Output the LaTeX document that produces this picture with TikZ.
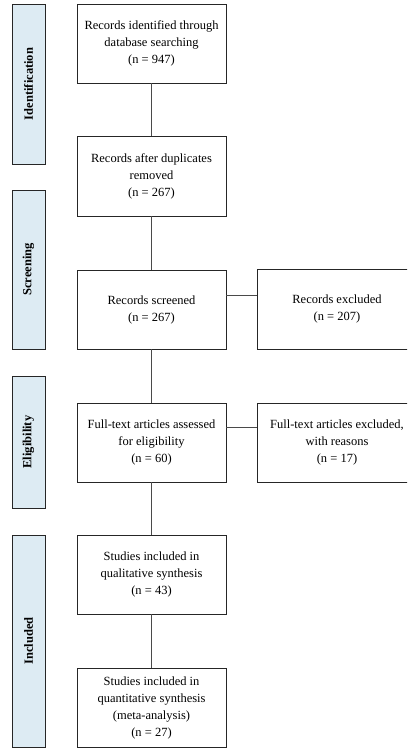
\documentclass[tikz,border=0pt]{standalone}
\usepackage{fontspec}
\setmainfont{Liberation Serif}
\definecolor{barfill}{HTML}{DDEBF3}
\definecolor{linegray}{HTML}{4A4A4A}
\begin{document}
\begin{tikzpicture}[x=1pt,y=1pt,
  box/.style={draw=black!85, line width=0.9pt, fill=white, align=center,
    minimum width=149pt, minimum height=79pt, inner sep=2pt,
    font=\fontsize{12.5}{17}\selectfont},
  sidebox/.style={box, minimum width=160pt},
  phase/.style={draw=black!85, line width=0.9pt, fill=barfill, minimum width=33pt,
    inner sep=0pt, font=\bfseries\fontsize{12.5}{15}\selectfont},
  link/.style={draw=linegray, line width=1pt}]
\useasboundingbox (0,0) rectangle (407,-749);
\clip (0,0) rectangle (407,-749);
% phase bars
\node[phase, minimum height=160pt] (pid) at (28.5,-84) {};
\node[rotate=90, font=\bfseries\fontsize{12.5}{15}\selectfont] (tid) at (pid.center) {Identification};
\node[phase, minimum height=159pt] (psc) at (28.5,-269.5) {};
\node[rotate=90, font=\bfseries\fontsize{12.5}{15}\selectfont] (tsc) at (psc.center) {Screening};
\node[phase, minimum height=132pt] (pel) at (28.5,-442) {};
\node[rotate=90, font=\bfseries\fontsize{12.5}{15}\selectfont] (tel) at (pel.center) {Eligibility};
\node[phase, minimum height=212pt] (pin) at (28.5,-641) {};
\node[rotate=90, font=\bfseries\fontsize{12.5}{15}\selectfont] (tin) at (pin.center) {Included};
% main boxes
\node[box] (b1) at (151.5,-43.5) {Records identified through\\database searching\\(n = 947)};
\node[box, minimum height=80pt] (b2) at (151.5,-176) {Records after duplicates\\removed\\(n = 267)};
\node[box] (b3) at (151.5,-309.5) {Records screened\\(n = 267)};
\node[box] (b4) at (151.5,-442.5) {Full-text articles assessed\\for eligibility\\(n = 60)};
\node[box] (b5) at (151.5,-574.5) {Studies included in\\qualitative synthesis\\(n = 43)};
\node[box] (b6) at (151.5,-707.5) {Studies included in\\quantitative synthesis\\(meta-analysis)\\(n = 27)};
% side boxes
\node[sidebox, minimum height=80pt] (r1) at (337,-309) {Records excluded\\(n = 207)};
\node[sidebox] (r2) at (337,-442.5) {Full-text articles excluded,\\with reasons\\(n = 17)};
% connectors
\draw[link] (b1) -- (b2);
\draw[link] (b2) -- (b3);
\draw[link] (b3) -- (b4);
\draw[link] (b4) -- (b5);
\draw[link] (b5) -- (b6);
\draw[link] ([yshift=-26pt]b3.north east) -- ([yshift=-26pt]b3.north east -| r1.west);
\draw[link] ([yshift=-25pt]b4.north east) -- ([yshift=-25pt]b4.north east -| r2.west);
\end{tikzpicture}
\end{document}
